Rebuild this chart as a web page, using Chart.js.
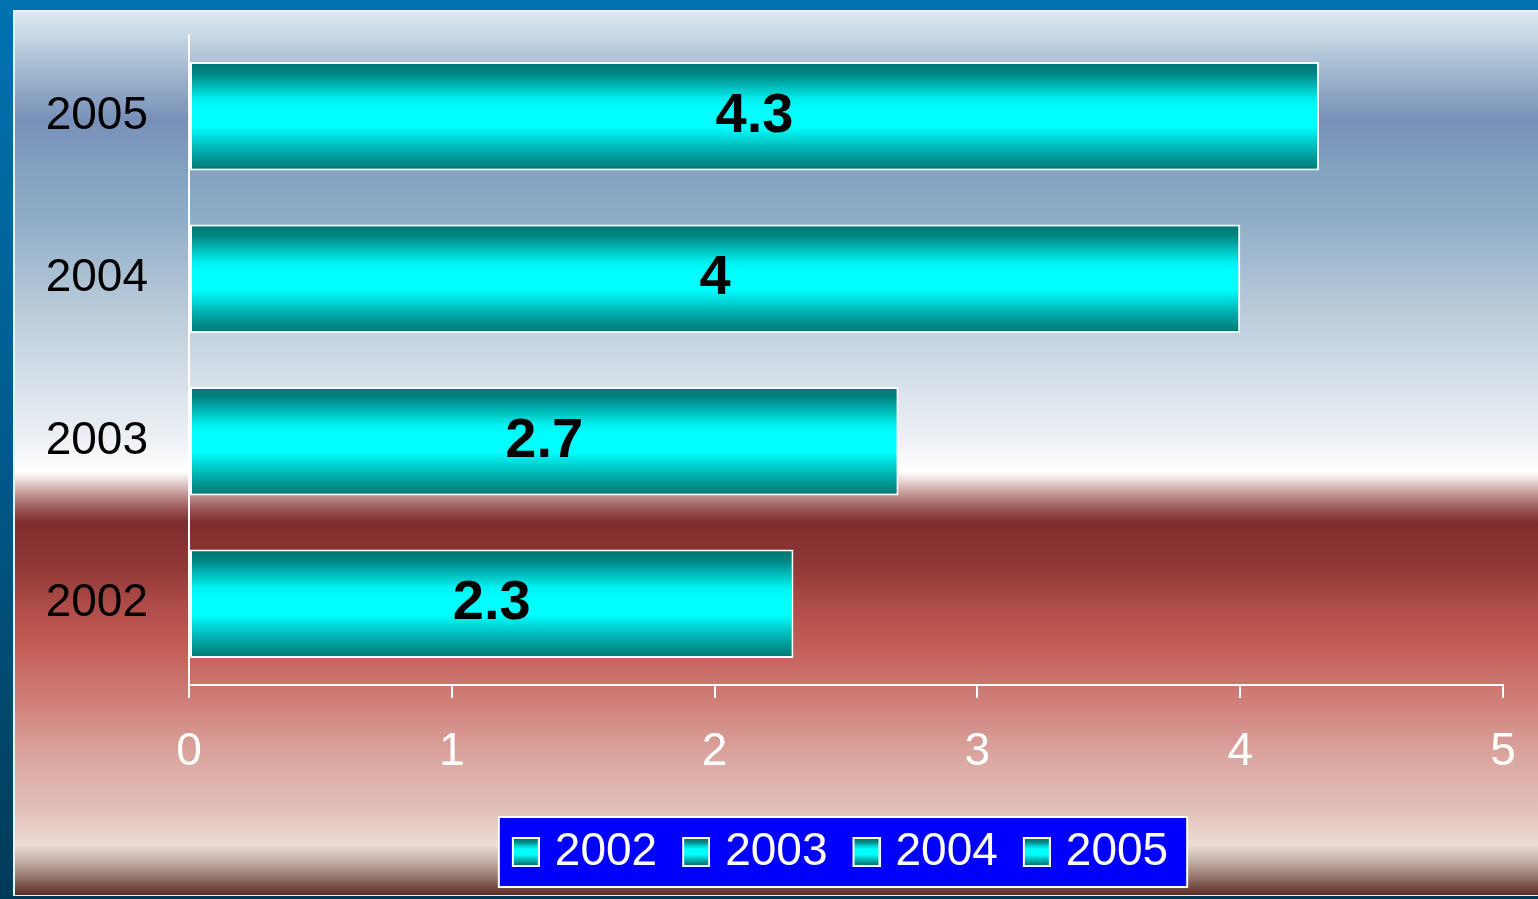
<!DOCTYPE html>
<html><head><meta charset="utf-8">
<script src="https://cdn.jsdelivr.net/npm/chart.js@4"></script>
<style>html,body{margin:0;padding:0;background:#0070b0;overflow:hidden}#wrap{width:1538px;height:899px;position:relative}</style>
</head><body><div id="wrap"><canvas id="c"></canvas></div>
<script>
const categories = ['2002', '2003', '2004', '2005'];
const values = [2.3, 2.7, 4, 4.3];
const xTicks = [0, 1, 2, 3, 4, 5];

const FONT = '"Liberation Sans", Arial, sans-serif';
const BAR_PCT = 0.667;

function cyanStops(g) {
  g.addColorStop(0, '#007673');
  g.addColorStop(0.1, '#008482');
  g.addColorStop(0.35, '#00f2f2');
  g.addColorStop(0.45, '#00ffff');
  g.addColorStop(0.6, '#00ffff');
  g.addColorStop(0.8, '#00b4b4');
  g.addColorStop(1, '#007470');
  return g;
}

function barFill(ctx) {
  const chart = ctx.chart;
  const ys = chart.scales && chart.scales.y;
  if (!ys || ctx.dataIndex === undefined || !chart.chartArea) return '#00ffff';
  const yc = ys.getPixelForValue(ctx.dataIndex);
  const half = ys.height / categories.length * BAR_PCT / 2;
  return cyanStops(chart.ctx.createLinearGradient(0, yc - half, 0, yc + half));
}

const swatch = document.createElement('canvas');
swatch.width = 36; swatch.height = 30;
(function () {
  const c = swatch.getContext('2d');
  c.fillStyle = '#ffffff';
  c.fillRect(8, 0, 28, 30);
  c.fillStyle = cyanStops(c.createLinearGradient(0, 2, 0, 28));
  c.fillRect(10, 2, 24, 26);
})();

const legendShift = {
  id: 'legendShift',
  afterLayout(chart) {
    const l = chart.legend;
    if (l) { l.left -= 6; l.right -= 6; }
  }
};

const framePlugin = {
  id: 'frame',
  beforeDraw(chart) {
    const c = chart.ctx, W = chart.width, H = chart.height;
    c.save();
    const lg = c.createLinearGradient(0, 0, 0, H);
    lg.addColorStop(0, '#0072b0');
    lg.addColorStop(0.5, '#005a8c');
    lg.addColorStop(1, '#003a58');
    c.fillStyle = lg;
    c.fillRect(0, 0, W, H);
    c.fillStyle = '#0072b0';
    c.fillRect(0, 0, W, 10);
    c.fillStyle = '#e8f2f8';
    c.fillRect(13, 10, W - 13, H - 13);
    const g = c.createLinearGradient(0, 0, 0, H);
    const stops = [
      [12, '#dde9f1'], [40, '#c3d4e3'], [70, '#a2b9d0'], [120, '#7890b8'],
      [165, '#82a0c0'], [220, '#90adc7'], [300, '#b5c8d8'], [380, '#d6e0ea'],
      [440, '#edf1f5'], [472, '#ffffff'], [480, '#ecdcdc'], [490, '#d0aaa8'],
      [500, '#b07c7a'], [510, '#985250'], [523, '#7e2c2c'], [570, '#923a38'],
      [610, '#b24e4a'], [645, '#c35c57'], [700, '#cf7f78'], [760, '#dba8a2'],
      [810, '#e3c0ba'], [845, '#ecdcd6'], [860, '#c6b2ac'], [876, '#9a7a72'],
      [894, '#5e2e26']
    ];
    stops.forEach(([y, col]) => g.addColorStop(y / H, col));
    c.fillStyle = g;
    c.fillRect(15, 12, W - 15, 883);
    const lgd = chart.legend;
    if (lgd && lgd.legendHitBoxes && lgd.legendHitBoxes.length) {
      const hb = lgd.legendHitBoxes;
      const left = Math.min(...hb.map(h => h.left)) - 13;
      const right = Math.max(...hb.map(h => h.left + h.width)) + 19;
      const cy = hb[0].top + hb[0].height / 2;
      c.fillStyle = '#0000ff';
      c.fillRect(left, cy - 35, right - left, 70);
      c.strokeStyle = '#ffffff';
      c.lineWidth = 2;
      c.strokeRect(left, cy - 35, right - left, 70);
    }
    c.restore();
  }
};

const labelPlugin = {
  id: 'barLabels',
  afterDatasetsDraw(chart) {
    const c = chart.ctx;
    const meta = chart.getDatasetMeta(0);
    c.save();
    c.font = 'bold 56px ' + FONT;
    c.fillStyle = '#000000';
    c.textAlign = 'center';
    c.textBaseline = 'middle';
    meta.data.forEach((bar, i) => {
      const p = bar.getProps(['x', 'y', 'base'], true);
      c.fillText(String(values[i]), (p.x + p.base) / 2, p.y);
    });
    c.restore();
  }
};

new Chart(document.getElementById('c'), {
  type: 'bar',
  data: {
    labels: categories,
    datasets: [{
      data: values,
      backgroundColor: barFill,
      borderColor: '#ffffff',
      borderWidth: 2,
      borderSkipped: false,
      categoryPercentage: 1,
      barPercentage: BAR_PCT
    }]
  },
  options: {
    indexAxis: 'y',
    responsive: true,
    maintainAspectRatio: false,
    animation: false,
    events: [],
    layout: { padding: { left: 15, top: 35, right: 35, bottom: 14 } },
    scales: {
      y: {
        reverse: true,
        grid: { display: false, drawTicks: false },
        border: { display: true, color: '#ffffff', width: 2 },
        ticks: { color: '#000000', font: { family: FONT, size: 46 }, padding: 41 },
        afterFit(s) { s.width = 174; s.paddingTop = 0; s.paddingBottom = 0; }
      },
      x: {
        min: xTicks[0],
        max: xTicks[xTicks.length - 1],
        grid: { drawOnChartArea: false, drawTicks: true, tickLength: 13, color: '#ffffff', lineWidth: 2 },
        border: { display: true, color: '#ffffff', width: 2 },
        ticks: { stepSize: 1, color: '#ffffff', font: { family: FONT, size: 46 }, padding: 27 },
        afterFit(s) { s.height = 119; s.paddingLeft = 0; s.paddingRight = 0; }
      }
    },
    plugins: {
      tooltip: { enabled: false },
      legend: {
        position: 'bottom',
        fullSize: false,
        labels: {
          color: '#ffffff',
          font: { family: FONT, size: 46 },
          usePointStyle: true,
          boxWidth: 20,
          boxHeight: 28,
          padding: 25,
          generateLabels() {
            return categories.map((cat, i) => ({
              text: cat,
              fillStyle: '#00ffff',
              strokeStyle: '#ffffff',
              lineWidth: 0,
              pointStyle: swatch,
              fontColor: '#ffffff',
              hidden: false,
              index: i
            }));
          }
        }
      }
    }
  },
  plugins: [legendShift, framePlugin, labelPlugin]
});
</script>
</body></html>
